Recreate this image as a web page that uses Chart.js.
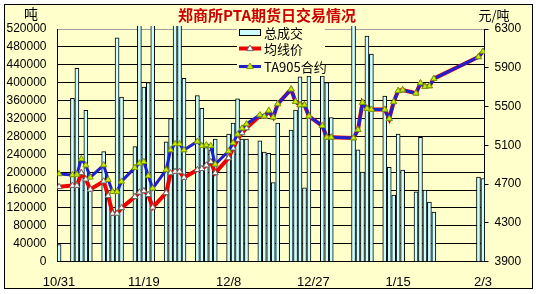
<!DOCTYPE html>
<html>
<head>
<meta charset="utf-8">
<script src="https://cdn.jsdelivr.net/npm/chart.js@4.4.1/dist/chart.umd.min.js"></script>
<style>
html,body{margin:0;padding:0;background:#fff;}
canvas{display:block;}
</style>
</head>
<body>
<canvas id="c" width="536" height="294"></canvas>
<script>
// ---- data (days counted from 10/31) ----
const tradeDays = [0,3,4,5,6,7,10,11,12,13,14,17,18,19,20,21,24,25,26,27,28,31,32,33,34,35,38,39,40,41,42,45,46,47,48,49,52,53,54,55,56,59,60,61,66,67,68,69,70,73,74,75,76,77,80,81,82,83,84,94,95];
const volume = [38000,365000,432000,200000,338000,165000,246000,150000,105000,500000,368000,257000,560000,390000,400000,560000,268000,320000,560000,560000,410000,371000,343000,255000,250000,274000,285000,310000,364000,274000,274000,270000,245000,242000,177000,310000,294000,339000,413000,165000,415000,415000,400000,322000,560000,250000,200000,504000,464000,370000,211000,149000,285000,205000,156000,278000,160000,133000,111000,189000,186000];
const avgPrice = [4673,4685,4685,4815,4750,4645,4730,4580,4398,4398,4455,4570,4615,4630,4590,4460,4610,4815,4830,4830,4768,4848,4858,4895,4930,4815,4970,5070,5160,5228,5278,5405,5395,5450,5390,5527,5678,5550,5516,5516,5400,5302,5183,5183,5175,5262,5542,5480,5470,5470,5375,5548,5662,5670,5637,5742,5705,5712,5788,6012,6068];
const ta905 = [4805,4795,4800,4960,4895,4770,4897,4745,4622,4622,4728,4870,4916,4931,4785,4657,4846,5052,5115,5115,5052,5140,5095,5103,5095,4905,5040,5125,5214,5276,5320,5413,5400,5460,5390,5527,5678,5550,5516,5516,5400,5302,5183,5183,5175,5262,5542,5480,5470,5470,5375,5548,5662,5670,5637,5742,5705,5712,5788,6012,6068];
const xTickDays = [0,19,38,57,76,95];
const xTickLabels = ['10/31','11/19','12/8','12/27','1/15','2/3'];
const volMin = 0, volMax = 520000, volStep = 40000;
const priceMin = 3900, priceMax = 6300, priceStep = 400;
const seriesNames = ['总成交','均线价','TA905合约'];
const titleText = '郑商所PTA期货日交易情况';

const BG = '#ffffcc';
const CJK = '"Noto Sans CJK SC", sans-serif';

function pts(vals){ return tradeDays.map((d,i)=>({x:d,y:vals[i]})); }

function tri(ctx,x,y,r,fill,stroke){
  ctx.beginPath();
  ctx.moveTo(x, y - r);
  ctx.lineTo(x + r*0.95, y + r*0.6);
  ctx.lineTo(x - r*0.95, y + r*0.6);
  ctx.closePath();
  ctx.fillStyle = fill; ctx.fill();
  ctx.lineWidth = 1; ctx.strokeStyle = stroke; ctx.stroke();
}

const decor = {
  id:'decor',
  beforeDraw(chart){
    const c = chart.ctx;
    c.save();
    c.fillStyle = '#fff'; c.fillRect(0,0,chart.width,chart.height);
    c.fillStyle = BG; c.fillRect(4,4,529,285);
    c.strokeStyle = '#000'; c.lineWidth = 1; c.strokeRect(4.5,4.5,528,284);
    c.restore();
  },
  afterDatasetsDraw(chart){
    const c = chart.ctx, ds = chart.data.datasets;
    c.save();
    c.fillStyle = BG; c.fillRect(237,25,88,51);
    c.fillStyle = ds[0].backgroundColor; c.fillRect(239.5,29.5,21,6);
    c.strokeStyle = '#000'; c.lineWidth = 1; c.strokeRect(239.5,29.5,21,6);
    c.strokeStyle = ds[1].borderColor; c.lineWidth = ds[1].borderWidth;
    c.beginPath(); c.moveTo(239,48.5); c.lineTo(261,48.5); c.stroke();
    tri(c,250,48.5,3.5,ds[1].pointBackgroundColor,ds[1].pointBorderColor);
    c.strokeStyle = ds[2].borderColor; c.lineWidth = ds[2].borderWidth;
    c.beginPath(); c.moveTo(239,66.5); c.lineTo(261,66.5); c.stroke();
    tri(c,250,66.5,3.5,ds[2].pointBackgroundColor,ds[2].pointBorderColor);
    c.fillStyle = '#000'; c.font = '13px ' + CJK; c.textAlign = 'left'; c.textBaseline = 'middle';
    c.fillText(seriesNames[0],264,33);
    c.fillText(seriesNames[1],264,49);
    c.fillText(seriesNames[2],264,67);
    c.restore();
  },
  afterDraw(chart){
    const c = chart.ctx;
    c.save();
    c.textBaseline = 'middle'; c.textAlign = 'center';
    c.fillStyle = '#cc0000'; c.font = 'bold 15px ' + CJK;
    c.fillText(titleText, 267, 15);
    c.fillStyle = '#000'; c.font = '14px ' + CJK;
    c.fillText('吨', 31, 14);
    c.font = '13px ' + CJK;
    c.fillText('元/吨', 494, 15);
    c.restore();
  }
};

Chart.defaults.font.family = '"Liberation Sans", Arial, sans-serif';
Chart.defaults.color = '#000';

new Chart(document.getElementById('c'), {
  type:'line',
  data:{
    datasets:[
      {type:'bar', label:seriesNames[0], data:pts(volume), yAxisID:'y', xAxisID:'x',
       backgroundColor:'#ccffff', borderColor:'#000', borderWidth:1, barThickness:4,
       borderSkipped:'start', order:3, clip:{left:0,top:3,right:0,bottom:0}},
      {type:'line', label:seriesNames[1], data:pts(avgPrice), yAxisID:'y1', xAxisID:'x',
       borderColor:'#ee0000', borderWidth:4, tension:0, pointStyle:'triangle', pointRadius:3.5,
       pointBackgroundColor:'#ffffff', pointBorderColor:'#666666', pointBorderWidth:1, order:2},
      {type:'line', label:seriesNames[2], data:pts(ta905), yAxisID:'y1', xAxisID:'x',
       borderColor:'#2020cc', borderWidth:3, tension:0, pointStyle:'triangle', pointRadius:3.5,
       pointBackgroundColor:'#ccee00', pointBorderColor:'#7a9a00', pointBorderWidth:1, order:1}
    ]
  },
  options:{
    responsive:false, animation:false, devicePixelRatio:1,
    layout:{padding:{top:29,left:0,right:0,bottom:0}},
    plugins:{legend:{display:false}, title:{display:false}, tooltip:{enabled:false}},
    scales:{
      x:{type:'linear', min:-0.35, max:95.35, offset:false,
         grid:{display:false, drawTicks:false},
         border:{display:true, color:'#000'},
         ticks:{font:{size:13}, color:'#000', padding:13, autoSkip:false, maxRotation:0,
                callback:(v)=>{const i = xTickDays.indexOf(v); return i>=0 ? xTickLabels[i] : '';}},
         afterBuildTicks:(s)=>{ s.ticks = xTickDays.map(v=>({value:v})); },
         afterFit:(s)=>{ s.height = 32.3; }},
      y:{type:'linear', position:'left', min:volMin, max:volMax,
         ticks:{stepSize:volStep, font:{size:12}, color:'#000', padding:11, callback:(v)=>String(v)},
         grid:{color:(ctx)=> (ctx.tick && ctx.tick.value===volMax) ? '#a0a0a0' : '#000', drawTicks:false, lineWidth:1},
         border:{display:true, color:'#000'},
         afterFit:(s)=>{ s.width = 57.5; }},
      y1:{type:'linear', position:'right', min:priceMin, max:priceMax,
         ticks:{stepSize:priceStep, font:{size:12}, color:'#000', padding:6, callback:(v)=>String(v)},
         grid:{drawOnChartArea:false, drawTicks:true, tickLength:4, color:'#000'},
         border:{display:true, color:'#000'},
         afterFit:(s)=>{ s.width = 51.5; }}
    }
  },
  plugins:[decor]
});
</script>
</body>
</html>
